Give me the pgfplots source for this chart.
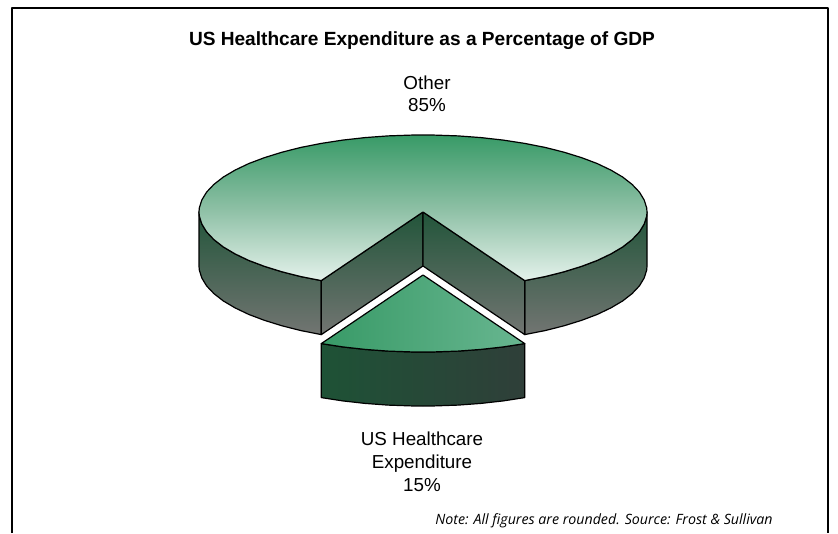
\documentclass[border=0pt]{standalone}
\usepackage{pgfplots}
\pgfplotsset{compat=1.18}
\usepackage{fontspec}
\setmainfont{Liberation Sans}
\newfontfamily\notefont{Open Sans}
\definecolor{topA}{HTML}{389A67}
\definecolor{topM}{HTML}{8CBFA4}
\definecolor{topB}{HTML}{E4F2EB}
\definecolor{sideA}{HTML}{22553A}
\definecolor{sideB}{HTML}{727572}
\definecolor{sliceA}{HTML}{389A67}
\definecolor{sliceB}{HTML}{68B690}
\definecolor{wallA}{HTML}{1E5236}
\definecolor{wallB}{HTML}{2F3F39}
\begin{document}
\begin{tikzpicture}
\begin{axis}[
  scale only axis, width=838pt, height=533pt,
  xmin=0, xmax=838, ymin=0, ymax=533,
  hide axis, clip=false, no markers,
  every axis plot/.append style={line join=round, line width=1.2pt},
]
% page background and open-bottomed frame
\addplot[draw=none, fill=white] coordinates {(0,0) (838,0) (838,533) (0,533)} -- cycle;
\addplot[black, line width=1.2pt] coordinates {(12,0) (12,525) (828,525) (828,0)};

% Other, 85%: outer walls
\addplot[draw=black, shade, top color=sideA, bottom color=sideB] coordinates {
 (647,321) (646.7,317.0) (644.2,309.0) (639.4,301.1) (632.1,293.4) (622.6,286.0)
 (610.9,279.1) (597.1,272.5) (581.4,266.6) (564.0,261.2) (545.0,256.4) (524.7,252.4)
 (524.7,198.4) (545.0,202.4) (564.0,207.2) (581.4,212.6) (597.1,218.5) (610.9,225.1)
 (622.6,232.0) (632.1,239.4) (639.4,247.1) (644.2,255.0) (646.7,263.0) (647,267)} -- cycle;
\addplot[draw=black, shade, top color=sideA, bottom color=sideB] coordinates {
 (199,321) (199.3,317.0) (201.8,309.0) (206.6,301.1) (213.9,293.4) (223.4,286.0)
 (235.1,279.1) (248.9,272.5) (264.6,266.6) (282.0,261.2) (301.0,256.4) (321.3,252.4)
 (321.3,198.4) (301.0,202.4) (282.0,207.2) (264.6,212.6) (248.9,218.5) (235.1,225.1)
 (223.4,232.0) (213.9,239.4) (206.6,247.1) (201.8,255.0) (199.3,263.0) (199,267)} -- cycle;
% Other, 85%: inner walls of the gap
\addplot[draw=black, shade, top color=sideA, bottom color=sideB] coordinates {
 (423,321) (321.3,252.4) (321.3,198.4) (423,267)} -- cycle;
\addplot[draw=black, shade, top color=sideA, bottom color=sideB] coordinates {
 (423,321) (524.7,252.4) (524.7,198.4) (423,267)} -- cycle;
% Other, 85%: top face
\addplot[draw=black, shade, top color=topA, bottom color=topB, middle color=topM] coordinates {
 (524.7,252.4) (545.0,256.4) (564.0,261.2) (581.4,266.6) (597.1,272.5) (610.9,279.1)
 (622.6,286.0) (632.1,293.4) (639.4,301.1) (644.2,309.0) (646.7,317.0) (647,321)
 (646.7,325.0) (644.2,333.0) (639.4,340.9) (632.1,348.6) (622.6,356.0) (610.9,362.9)
 (597.1,369.5) (581.4,375.4) (564.0,380.8) (545.0,385.6) (524.7,389.6) (503.3,392.9)
 (481.0,395.4) (458.0,397.1) (434.7,397.9) (423,398) (411.3,397.9) (388.0,397.1)
 (365.0,395.4) (342.7,392.9) (321.3,389.6) (301.0,385.6) (282.0,380.8) (264.6,375.4)
 (248.9,369.5) (235.1,362.9) (223.4,356.0) (213.9,348.6) (206.6,340.9) (201.8,333.0)
 (199.3,325.0) (199,321) (199.3,317.0) (201.8,309.0) (206.6,301.1) (213.9,293.4)
 (223.4,286.0) (235.1,279.1) (248.9,272.5) (264.6,266.6) (282.0,261.2) (301.0,256.4)
 (321.3,252.4) (423,321)} -- cycle;

% US Healthcare Expenditure, 15%: outer wall
\addplot[draw=black, shade, left color=wallA, right color=wallB] coordinates {
 (321.3,189.4) (342.7,186.1) (365.0,183.6) (388.0,181.9) (411.3,181.1) (423,181)
 (434.7,181.1) (458.0,181.9) (481.0,183.6) (503.3,186.1) (524.7,189.4)
 (524.7,135.4) (503.3,132.1) (481.0,129.6) (458.0,127.9) (434.7,127.1) (423,127)
 (411.3,127.1) (388.0,127.9) (365.0,129.6) (342.7,132.1) (321.3,135.4)} -- cycle;
% US Healthcare Expenditure, 15%: top face
\addplot[draw=black, shade, left color=sliceA, right color=sliceB] coordinates {
 (423,258) (321.3,189.4) (342.7,186.1) (365.0,183.6) (388.0,181.9) (411.3,181.1) (423,181)
 (434.7,181.1) (458.0,181.9) (481.0,183.6) (503.3,186.1) (524.7,189.4)} -- cycle;

% title, slice labels and source note
\node[anchor=center, font=\fontsize{19.1}{23}\selectfont\bfseries] at (axis cs:422,492) {US Healthcare Expenditure as a Percentage of GDP};
\node[anchor=center, align=center, font=\fontsize{18.8}{22}\selectfont] at (axis cs:427,439.5) {Other\\85\%};
\node[anchor=center, align=center, font=\fontsize{18.8}{23}\selectfont] at (axis cs:422,71) {US Healthcare\\Expenditure\\15\%};
\node[anchor=center, font=\fontsize{14.2}{17}\notefont\itshape] at (axis cs:604,12) {Note: All figures are rounded. Source: Frost \& Sullivan};
\end{axis}
\end{tikzpicture}
\end{document}
